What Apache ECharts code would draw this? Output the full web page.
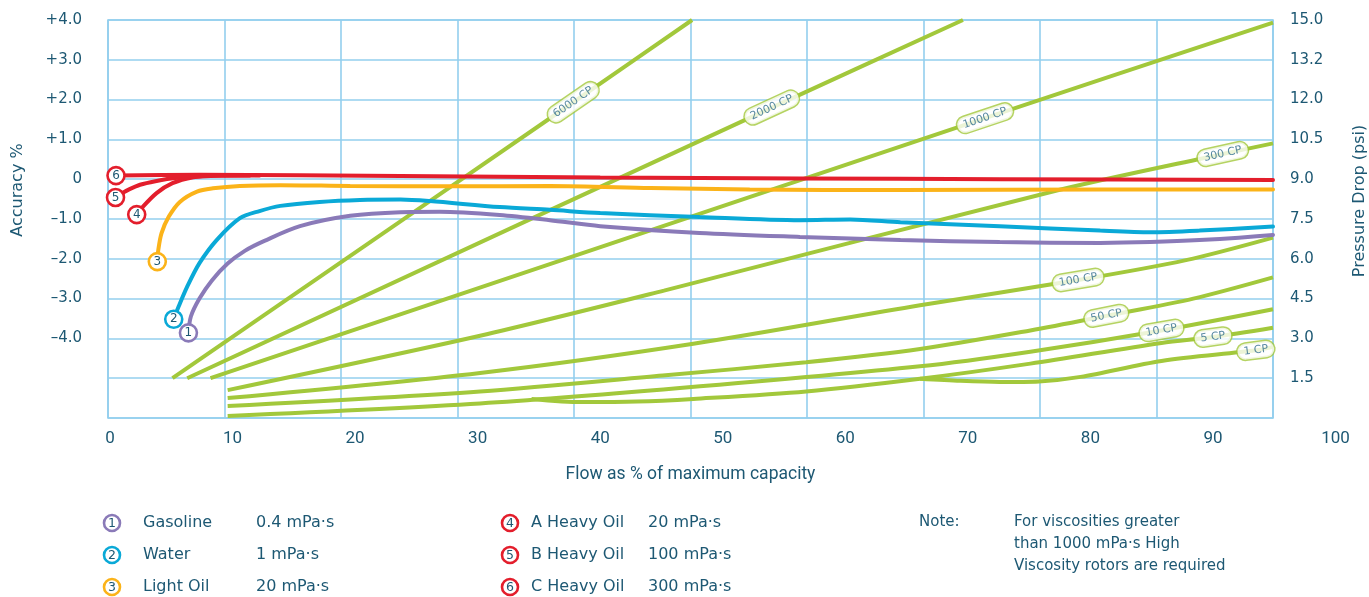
<!DOCTYPE html>
<html>
<head>
<meta charset="utf-8">
<script src="https://cdn.jsdelivr.net/npm/echarts@6/dist/echarts.min.js"></script>
<style>
  html, body { margin: 0; padding: 0; background: #ffffff; }
  #chart { width: 1369px; height: 597px; }
</style>
</head>
<body>
<div id="chart"></div>
<script>
// ---- Tick labels ----
const accuracyTickLabels = ['', '', '\u20134.0', '\u20133.0', '\u20132.0', '\u20131.0', '0', '+1.0', '+2.0', '+3.0', '+4.0']; // -6 .. +4
const pressureTickLabels = ['', '1.5', '3.0', '4.5', '6.0', '7.5', '9.0', '10.5', '12.0', '13.2', '15.0'];   // 0 .. 15 psi

// ---- Accuracy curves: [flow %, accuracy %] ----
const gasoline = [[6.4,-3.86],[6.6,-3.45],[7.3,-3.0],[8.3,-2.55],[9.6,-2.12],[11.0,-1.8],[12.6,-1.55],[15.5,-1.18],[19.6,-0.92],[23.7,-0.83],[26.9,-0.82],[31.8,-0.90],[35.9,-1.03],[40.0,-1.18],[48.1,-1.35],[56.3,-1.45],[64.5,-1.53],[72.6,-1.58],[80.8,-1.60],[84.9,-1.58],[88.9,-1.53],[94.9,-1.40]];
const water = [[5.2,-3.52],[5.6,-3.20],[6.3,-2.70],[7.3,-2.11],[8.7,-1.53],[10.6,-0.98],[12.2,-0.80],[13.9,-0.67],[17.1,-0.57],[20.4,-0.52],[23.7,-0.51],[26.1,-0.55],[31.8,-0.70],[35.9,-0.77],[40.0,-0.85],[48.1,-0.95],[56.3,-1.03],[60.4,-1.01],[64.5,-1.08],[72.6,-1.18],[80.8,-1.29],[84.9,-1.33],[88.9,-1.29],[94.9,-1.19]];
const lightOil = [[3.86,-2.07],[3.94,-1.78],[4.2,-1.36],[4.8,-0.94],[5.7,-0.57],[7.1,-0.31],[8.4,-0.23],[10.6,-0.17],[13.9,-0.15],[19.6,-0.17],[27.7,-0.18],[35.9,-0.17],[44.1,-0.22],[52.2,-0.26],[64.5,-0.27],[80.8,-0.26],[94.9,-0.26]];
const heavyOilA = [[2.18,-0.89],[2.6,-0.72],[3.8,-0.35],[5.1,-0.10],[6.8,0.05],[8.4,0.09],[12.2,0.09]];
const heavyOilB = [[0.45,-0.46],[1.0,-0.35],[1.6,-0.25],[2.45,-0.14],[3.7,-0.05],[5.3,0.03],[8.2,0.08],[11.4,0.09]];
const heavyOilC = [[0.49,0.09],[7.3,0.11],[23.7,0.08],[40.0,0.04],[56.3,0.02],[72.6,0.0],[94.9,-0.02]];

// ---- Legend text ----
const fluidNames = ['Gasoline', 'Water', 'Light Oil', 'A Heavy Oil', 'B Heavy Oil', 'C Heavy Oil'];
const fluidViscosities = ['0.4 mPa\u00b7s', '1 mPa\u00b7s', '20 mPa\u00b7s', '20 mPa\u00b7s', '100 mPa\u00b7s', '300 mPa\u00b7s'];

// ---- Pressure drop lines: [flow %, psi] ----
const cp6000 = [[5.1,1.5],[37.8,11.9],[47.5,15.0]];
const cp2000 = [[6.3,1.5],[54.0,11.7],[69.6,15.0]];
const cp1000 = [[8.2,1.5],[71.4,11.3],[94.9,14.9]];
const cp300  = [[9.6,1.05],[30.2,3.1],[45.2,4.8],[77.5,8.6],[90.8,9.95],[94.9,10.35]];
const cp100  = [[9.6,0.75],[30.2,1.7],[47.6,2.8],[66.1,4.25],[79.0,5.2],[87.8,5.95],[94.9,6.8]];
const cp50   = [[9.6,0.45],[30.2,1.0],[45.1,1.6],[56.8,2.1],[66.1,2.6],[75.1,3.3],[81.3,3.85],[88.4,4.5],[94.9,5.3]];
const cp10   = [[9.6,0.08],[30.2,0.55],[46.5,1.13],[66.1,1.95],[75.1,2.5],[85.8,3.3],[94.9,4.1]];
const cp5    = [[34.4,0.72],[38.5,0.6],[43.0,0.62],[47.6,0.72],[56.8,1.0],[66.1,1.48],[75.1,2.05],[85.8,2.83],[90.0,3.05],[94.9,3.4]];
const cp1    = [[66.1,1.48],[69.4,1.4],[72.6,1.36],[75.8,1.38],[79.2,1.55],[85.8,2.15],[93.5,2.55],[94.9,2.68]];
const cpNames = ['6000 CP','2000 CP','1000 CP','300 CP','100 CP','50 CP','10 CP','5 CP','1 CP'];
const cpTagIndex = [1, 1, 1, 4, 4, 6, 5, 8, 6]; // point on each line that carries its tag

// ---- Styling ----
const TEXT = '#1d5873';
const GRIDC = '#93cfee';
const GREEN = '#a2c83b';
const fluidColors = ['#8a7ab8', '#0aa9d7', '#fbb319', '#e31e2c', '#e31e2c', '#e31e2c'];
const fluidData = [gasoline, water, lightOil, heavyOilA, heavyOilB, heavyOilC];
const cpData = [cp6000, cp2000, cp1000, cp300, cp100, cp50, cp10, cp5, cp1];

const chart = echarts.init(document.getElementById('chart'));

const cpSeries = cpData.map((pts, i) => ({
  name: cpNames[i],
  type: 'line',
  xAxisIndex: 0,
  yAxisIndex: 1,
  data: pts,
  smooth: 0.3,
  symbol: 'none',
  silent: true,
  lineStyle: { color: GREEN, width: 4, cap: 'butt' },
  z: 2
}));

const fluidSeries = fluidData.map((pts, i) => ({
  name: fluidNames[i],
  type: 'line',
  xAxisIndex: 0,
  yAxisIndex: 0,
  data: pts,
  smooth: 0.3,
  symbol: 'none',
  silent: true,
  lineStyle: { color: fluidColors[i], width: 4, cap: 'round' },
  z: 3,
  markPoint: {
    symbol: 'circle',
    symbolSize: 17,
    silent: true,
    itemStyle: { color: '#ffffff', borderColor: fluidColors[i], borderWidth: 2.6 },
    label: { show: true, position: 'inside', formatter: String(i + 1), color: TEXT, fontSize: 12, fontFamily: 'DejaVu Sans' },
    data: [{ coord: pts[0] }]
  }
}));

function tagSeries(angles) {
  return {
    name: 'tags',
    type: 'scatter',
    xAxisIndex: 0,
    yAxisIndex: 1,
    symbolSize: 1,
    silent: true,
    itemStyle: { color: 'rgba(0,0,0,0)' },
    z: 6,
    data: cpData.map((pts, i) => ({
      value: pts[cpTagIndex[i]],
      name: cpNames[i],
      label: { rotate: angles[i] }
    })),
    label: {
      show: true,
      position: 'inside',
      formatter: '{b}',
      color: '#2f6d8c',
      fontSize: 11,
      fontFamily: 'DejaVu Sans',
      backgroundColor: '#ffffff',
      borderColor: GREEN,
      borderWidth: 1.5,
      borderRadius: 9,
      padding: [3, 6, 2, 6]
    }
  };
}

// ---- Legend and note as graphic text ----
const graphics = [];
fluidNames.forEach((name, i) => {
  const col = i < 3 ? 0 : 1;
  const row = i % 3;
  const cx = [112, 510][col];
  const y = [523, 555, 587][row];
  graphics.push({ type: 'circle', shape: { cx: cx, cy: y, r: 8 }, style: { fill: '#fff', stroke: fluidColors[i], lineWidth: 2.6 }, silent: true });
  graphics.push({ type: 'text', x: cx, y: y + 0.5, style: { text: String(i + 1), fill: TEXT, font: '12.5px "DejaVu Sans"', align: 'center', verticalAlign: 'middle' }, silent: true });
  graphics.push({ type: 'text', x: [143, 531][col], y: y, style: { text: name, fill: TEXT, font: '16px "DejaVu Sans"', align: 'left', verticalAlign: 'middle' }, silent: true });
  graphics.push({ type: 'text', x: [256, 648][col], y: y, style: { text: fluidViscosities[i], fill: TEXT, font: '16px "DejaVu Sans"', align: 'left', verticalAlign: 'middle' }, silent: true });
});
graphics.push({ type: 'text', x: 919, y: 522, style: { text: 'Note:', fill: TEXT, font: '15px "DejaVu Sans"', verticalAlign: 'middle' }, silent: true });
['For viscosities greater', 'than 1000 mPa\u00b7s High', 'Viscosity rotors are required'].forEach((t, k) => {
  graphics.push({ type: 'text', x: 1014, y: 522 + k * 22, style: { text: t, fill: TEXT, font: '15px "DejaVu Sans"', verticalAlign: 'middle' }, silent: true });
});
graphics.push({ type: 'text', x: 18, y: 190, rotation: Math.PI / 2, style: { text: 'Accuracy %', fill: TEXT, font: '16px "DejaVu Sans"', align: 'center', verticalAlign: 'middle' }, silent: true });
graphics.push({ type: 'text', x: 1360, y: 201, rotation: Math.PI / 2, style: { text: 'Pressure Drop (psi)', fill: TEXT, font: '16px "DejaVu Sans"', align: 'center', verticalAlign: 'middle' }, silent: true });

const tickFont = { color: TEXT, fontSize: 15, fontFamily: 'DejaVu Sans' };

const option = {
  animation: false,
  backgroundColor: '#ffffff',
  grid: [
    // data grid: flow 0..100 spans the tick labels
    { left: 110, right: 33.5, top: 20, bottom: 179, containLabel: false, outerBoundsMode: 'none' },
    // framed plot box with its 10x10 cells
    { left: 108, right: 96, top: 20, bottom: 179, containLabel: false, outerBoundsMode: 'none',
      show: true, borderColor: GRIDC, borderWidth: 1.6, backgroundColor: 'transparent' }
  ],
  xAxis: [
    { gridIndex: 0, type: 'value', min: 0, max: 100, interval: 10,
      axisLine: { show: false }, axisTick: { show: false }, splitLine: { show: false },
      axisLabel: { margin: 12, color: TEXT, fontSize: 17, fontFamily: 'Roboto', showMinLabel: true, showMaxLabel: true } },
    { gridIndex: 1, type: 'value', min: 0, max: 10, interval: 1,
      axisLine: { show: false }, axisTick: { show: false }, axisLabel: { show: false },
      splitLine: { show: true, lineStyle: { color: GRIDC, width: 1.6 } },
      name: 'Flow as % of maximum capacity', nameLocation: 'middle', nameGap: 48,
      nameTextStyle: { color: TEXT, fontSize: 17.5, fontFamily: 'Roboto' } }
  ],
  yAxis: [
    { gridIndex: 0, type: 'value', position: 'left', min: -6, max: 4, interval: 1,
      axisLine: { show: false }, axisTick: { show: false }, splitLine: { show: false },
      axisLabel: Object.assign({ margin: 28, showMinLabel: true, showMaxLabel: true,
        formatter: v => accuracyTickLabels[Math.round(v + 6)] }, tickFont) },
    { gridIndex: 0, type: 'value', position: 'right', min: 0, max: 15, interval: 1.5, show: false },
    { gridIndex: 1, type: 'value', position: 'left', min: -6, max: 4, interval: 1,
      axisLine: { show: false }, axisTick: { show: false }, axisLabel: { show: false },
      splitLine: { show: true, lineStyle: { color: GRIDC, width: 1.6 } } },
    { gridIndex: 1, type: 'value', position: 'right', min: 0, max: 15, interval: 1.5,
      axisLine: { show: false }, axisTick: { show: false }, splitLine: { show: false },
      axisLabel: Object.assign({ margin: 17, showMinLabel: true, showMaxLabel: true,
        formatter: v => pressureTickLabels[Math.round(v / 1.5)] }, tickFont) }
  ],
  graphic: graphics,
  series: cpSeries.concat(fluidSeries, [tagSeries(cpData.map(() => 0))])
};

chart.setOption(option);

// Turn each tag along the local direction of its line
const angles = cpData.map((pts, i) => {
  const k = cpTagIndex[i];
  const a = chart.convertToPixel({ seriesIndex: i }, pts[Math.max(k - 1, 0)]);
  const b = chart.convertToPixel({ seriesIndex: i }, pts[Math.min(k + 1, pts.length - 1)]);
  return Math.atan2(a[1] - b[1], b[0] - a[0]) * 180 / Math.PI;
});
chart.setOption({ series: cpSeries.concat(fluidSeries, [tagSeries(angles)]) });
</script>
</body>
</html>
